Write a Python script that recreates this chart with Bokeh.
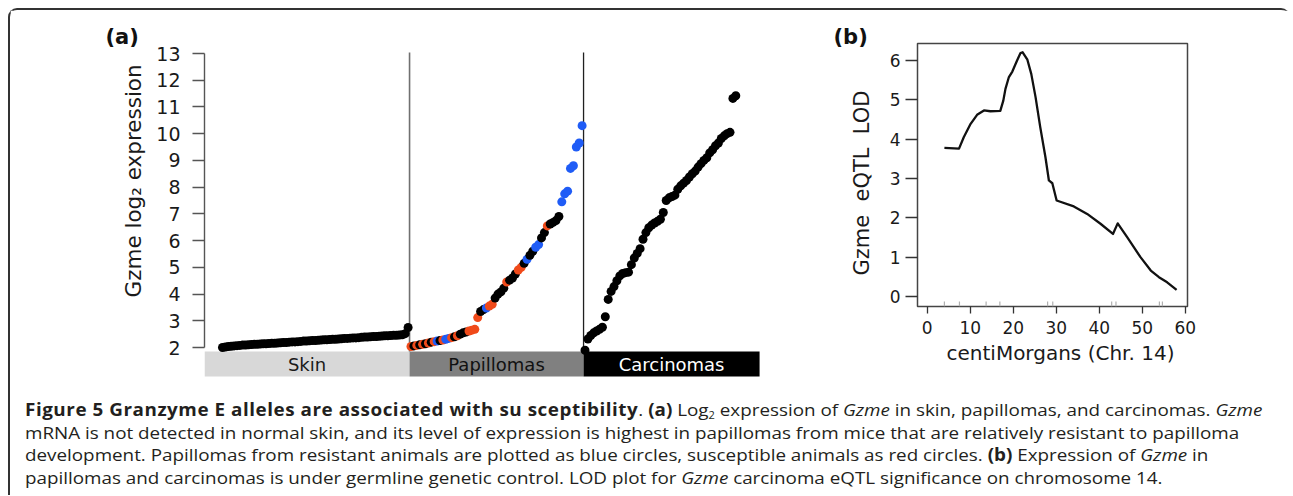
from math import pi
from bokeh.plotting import figure
from bokeh.models import LinearAxis, FixedTicker, ColumnDataSource, Div, Range1d, Title
from bokeh.layouts import column, row
from bokeh.embed import file_html
from bokeh.resources import INLINE
from bokeh.core.properties import value

# ---------------- data: panel (a) ----------------
group_names = ["Skin", "Papillomas", "Carcinomas"]
skin_expr = [2.00, 2.02, 2.04, 2.05, 2.06, 2.07, 2.08, 2.09, 2.09, 2.10,
             2.11, 2.12, 2.12, 2.13, 2.14, 2.14, 2.15, 2.16, 2.16, 2.17,
             2.18, 2.19, 2.19, 2.20, 2.21, 2.21, 2.22, 2.23, 2.24, 2.24,
             2.25, 2.26, 2.26, 2.27, 2.28, 2.29, 2.29, 2.30, 2.31, 2.31,
             2.32, 2.33, 2.34, 2.34, 2.35, 2.36, 2.36, 2.37, 2.38, 2.39,
             2.39, 2.40, 2.41, 2.41, 2.42, 2.43, 2.44, 2.44, 2.45, 2.46,
             2.46, 2.47, 2.48, 2.52, 2.75]
papilloma_expr = [2.04, 2.06, 2.08, 2.10, 2.12, 2.14, 2.17, 2.20, 2.22, 2.24,
                  2.26, 2.28, 2.31, 2.34, 2.37, 2.40, 2.44, 2.50, 2.55, 2.58,
                  2.62, 2.65, 2.68, 3.12, 3.35, 3.42, 3.48, 3.55, 3.62, 3.85,
                  4.00, 4.08, 4.22, 4.45, 4.52, 4.60, 4.75, 4.90, 5.00, 5.15,
                  5.30, 5.45, 5.60, 5.75, 5.85, 6.10, 6.30, 6.55, 6.62, 6.68,
                  6.75, 6.90, 7.45, 7.75, 7.85, 8.70, 8.80, 9.50, 9.65, 10.30]
# S = susceptible (red), R = resistant (blue), N = other (black)
papilloma_status = ["S", "N", "S", "N", "S", "N", "S", "N", "S", "R",
                    "N", "S", "R", "R", "S", "N", "S", "N", "N", "N",
                    "S", "S", "S", "S", "N", "N", "R", "S", "S", "N",
                    "N", "N", "N", "S", "N", "N", "N", "S", "S", "N",
                    "R", "N", "N", "R", "R", "N", "N", "S", "N", "N",
                    "N", "N", "R", "R", "R", "R", "R", "R", "R", "R"]
carcinoma_expr = [1.90, 2.32, 2.45, 2.55, 2.62, 2.68, 2.76, 3.15, 3.80, 4.10,
                  4.28, 4.50, 4.68, 4.77, 4.80, 4.82, 5.10, 5.35, 5.52, 5.70,
                  6.05, 6.30, 6.48, 6.58, 6.66, 6.72, 6.80, 7.05, 7.50, 7.60,
                  7.65, 7.70, 7.92, 8.05, 8.15, 8.25, 8.38, 8.50, 8.60, 8.75,
                  8.88, 9.00, 9.10, 9.28, 9.40, 9.55, 9.65, 9.82, 9.92, 10.00,
                  10.05, 11.32, 11.42]
y_ticks_a = [2, 3, 4, 5, 6, 7, 8, 9, 10, 11, 12, 13]

# ---------------- data: panel (b) ----------------
lod_cm = [4.0, 7.4, 8.5, 10.1, 11.6, 13.2, 14.7, 17.0, 17.7, 18.2, 19.0, 19.8,
          20.9, 21.7, 22.2, 23.3, 24.2, 25.2, 26.3, 27.5, 28.3, 29.1, 30.1,
          34.1, 37.2, 40.3, 43.2, 44.3, 46.5, 49.6, 52.0, 53.9, 55.8, 58.0]
lod_values = [3.78, 3.76, 4.05, 4.39, 4.62, 4.73, 4.71, 4.72, 4.98, 5.28, 5.58, 5.72,
              6.00, 6.19, 6.21, 6.02, 5.66, 5.07, 4.30, 3.54, 2.95, 2.88, 2.44,
              2.29, 2.10, 1.85, 1.59, 1.86, 1.51, 1.00, 0.66, 0.49, 0.36, 0.17]
marker_cm = [4.0, 7.5, 13.7, 16.9, 28.0, 29.2, 42.9, 43.9, 54.0, 54.7]
x_ticks_b = [0, 10, 20, 30, 40, 50, 60]
y_ticks_b = [0, 1, 2, 3, 4, 5, 6]

# ---------------- styling ----------------
FONT = "DejaVu Sans"
RED = "#f04a1a"
BLUE = "#1f5cf6"
BLACK = "#000000"
status_color = {"S": RED, "R": BLUE, "N": BLACK}

# ---------------- panel (a) ----------------
A_PX_PER_X = 2.9      # pixels per sample rank
A_PX_PER_Y = 26.73    # pixels per log2 unit
A_FW, A_FH = 576, 340
ax0 = 1 - 18 / A_PX_PER_X
ay1 = 13 + 13 / A_PX_PER_Y
pa = figure(frame_width=A_FW, frame_height=A_FH, output_backend="svg", toolbar_location=None,
            x_axis_type=None, y_axis_type=None, frame_align=False,
            x_range=Range1d(ax0, ax0 + A_FW / A_PX_PER_X),
            y_range=Range1d(ay1 - A_FH / A_PX_PER_Y, ay1),
            min_border_left=194, min_border_right=10, min_border_top=30,
            min_border_bottom=5)
pa.outline_line_color = None
pa.xgrid.visible = False
pa.ygrid.visible = False


def ay(py):
    return ay1 - (py - 40) / A_PX_PER_Y


n_s, n_p, n_c = len(skin_expr), len(papilloma_expr), len(carcinoma_expr)
skin_x = [i + 1 for i in range(n_s)]
pap_x = [n_s + i + 1 for i in range(n_p)]
carc_x = [n_s + n_p + i + 1 for i in range(n_c)]
b1 = n_s + 0.5
b2 = n_s + n_p + 0.5
bar_top, bar_bot = ay(351), ay(376)
bar_left = [ax0, b1, b2]
bar_right = [b1, b2, n_s + n_p + n_c + 8.2]
bar_src = ColumnDataSource(dict(left=bar_left, right=bar_right,
                                top=[bar_top] * 3, bottom=[bar_bot] * 3,
                                color=["#d8d8d8", "#808080", "#000000"],
                                name=group_names,
                                xc=[(l + r) / 2 for l, r in zip(bar_left, bar_right)],
                                yc=[(bar_top + bar_bot) / 2] * 3,
                                tcolor=["#1a1a1a", "#111111", "#ffffff"]))
pa.quad(left="left", right="right", top="top", bottom="bottom", fill_color="color",
        line_color=None, source=bar_src)
pa.text(x="xc", y="yc", text="name", text_color="tcolor", text_align="center",
        text_baseline="middle", text_font_size="18px", text_font=value(FONT), source=bar_src)

pa.segment(x0=[b1], x1=[b1], y0=[bar_top], y1=[ay(52)], line_color="#707070", line_width=1.6)
pa.segment(x0=[b2], x1=[b2], y0=[bar_top], y1=[ay(52)], line_color="#202020", line_width=1.3)

pts = ColumnDataSource(dict(
    x=skin_x + pap_x + carc_x,
    y=skin_expr + papilloma_expr + carcinoma_expr,
    c=[BLACK] * n_s + [status_color[s] for s in papilloma_status] + [BLACK] * n_c))
pa.scatter("x", "y", size=9, fill_color="c", line_color=None, source=pts)

ya = LinearAxis(ticker=FixedTicker(ticks=y_ticks_a), bounds=(2, 13),
                axis_line_color="#555555", axis_line_width=1.4,
                major_tick_line_color="#555555", major_tick_line_width=1.4,
                major_tick_out=12, major_tick_in=0, minor_tick_out=0, minor_tick_in=0,
                major_label_standoff=12, major_label_text_font=FONT,
                major_label_text_font_size="19px", major_label_text_color="#1a1a1a")
pa.add_layout(ya, "left")
pa.add_layout(Title(text="Gzme log\u2082 expression", align="left", offset=83, standoff=16,
                    text_font=FONT, text_font_size="21.5px", text_font_style="normal",
                    text_color="#1a1a1a"), "left")
pa.add_layout(Title(text="(a)", align="left", offset=-99, standoff=-16,
                    text_font=FONT, text_font_size="21px", text_font_style="bold",
                    text_color="#111111"), "above")

# ---------------- panel (b) ----------------
B_PX_PER_X = 4.3
B_PX_PER_Y = 39.33
B_FW, B_FH = 270, 263
bx0 = (917 - 926.7) / B_PX_PER_X
by0 = -(306 - 296) / B_PX_PER_Y
pb = figure(frame_width=B_FW, frame_height=B_FH, output_backend="svg", toolbar_location=None,
            x_axis_type=None, y_axis_type=None, frame_align=False,
            x_range=Range1d(bx0, bx0 + B_FW / B_PX_PER_X),
            y_range=Range1d(by0, by0 + B_FH / B_PX_PER_Y),
            min_border_left=127, min_border_right=103, min_border_top=33,
            min_border_bottom=79)
pb.xgrid.visible = False
pb.ygrid.visible = False
pb.outline_line_color = "#444444"
pb.outline_line_width = 1.5

pb.ray(x=marker_cm, y=[by0] * len(marker_cm), length=5, length_units="screen",
       angle=pi / 2, line_color="#b0b0b0", line_width=1.2)
pb.line(lod_cm, lod_values, line_color="#111111", line_width=2.3, line_join="round")

yb = LinearAxis(ticker=FixedTicker(ticks=y_ticks_b), axis_line_color=None,
                major_tick_line_color="#333333", major_tick_line_width=1.3,
                major_tick_out=12, major_tick_in=0, minor_tick_out=0, minor_tick_in=0,
                major_label_standoff=5, major_label_text_font=FONT,
                major_label_text_font_size="17px", major_label_text_color="#1a1a1a")
pb.add_layout(yb, "left")
xb = LinearAxis(ticker=FixedTicker(ticks=x_ticks_b), axis_line_color=None,
                major_tick_line_color="#333333", major_tick_line_width=1.3,
                major_tick_out=7, major_tick_in=0, minor_tick_out=0, minor_tick_in=0,
                major_label_standoff=7, major_label_text_font=FONT,
                major_label_text_font_size="17px", major_label_text_color="#1a1a1a")
pb.add_layout(xb, "below")
pb.add_layout(Title(text="Gzme\u00a0 eQTL\u00a0 LOD", align="left", offset=31, standoff=26,
                    text_font=FONT, text_font_size="21px", text_font_style="normal",
                    text_color="#1a1a1a"), "left")
pb.add_layout(Title(text="centiMorgans (Chr. 14)", align="left", offset=29, standoff=4,
                    text_font=FONT, text_font_size="20px", text_font_style="normal",
                    text_color="#1a1a1a"), "below")
pb.add_layout(Title(text="(b)", align="left", offset=-84, standoff=-10,
                    text_font=FONT, text_font_size="21px", text_font_style="bold",
                    text_color="#111111"), "above")

# ---------------- caption ----------------
caption = (
    "<div style=\"font-family:'Open Sans';font-size:17px;line-height:22.7px;"
    "color:#231f20;white-space:nowrap;transform:scaleX(1.107);transform-origin:0 0;\">"
    "<b style=\"letter-spacing:0.5px;\">Figure 5 Granzyme E alleles are associated with su sceptibility</b>. "
    "<b>(a)</b> Log<span style=\"font-size:10px;position:relative;top:3px;line-height:1\">2</span>"
    " expression of <i>Gzme</i> "
    "in skin, papillomas, and carcinomas. <i>Gzme</i><br>"
    "mRNA is not detected in normal skin, and its level of expression is highest in "
    "papillomas from mice that are relatively resistant to papilloma<br>"
    "development. Papillomas from resistant animals are plotted as blue circles, "
    "susceptible animals as red circles. <b>(b)</b> Expression of <i>Gzme</i> in<br>"
    "papillomas and carcinomas is under germline genetic control. LOD plot for "
    "<i>Gzme</i> carcinoma eQTL significance on chromosome 14.</div>"
)
cap = Div(text=caption, width=1270, height=100,
          styles={"padding-left": "10px", "padding-top": "9px"})

layout = column(row(pa, pb), cap,
                styles={"margin": "8px 0 0 8px",
                        "border-top": "2px solid #333333",
                        "border-left": "2px solid #333333",
                        "border-top-left-radius": "9px",
                        "border-top-right-radius": "9px"})

open("out.html", "w").write(file_html(layout, INLINE))
